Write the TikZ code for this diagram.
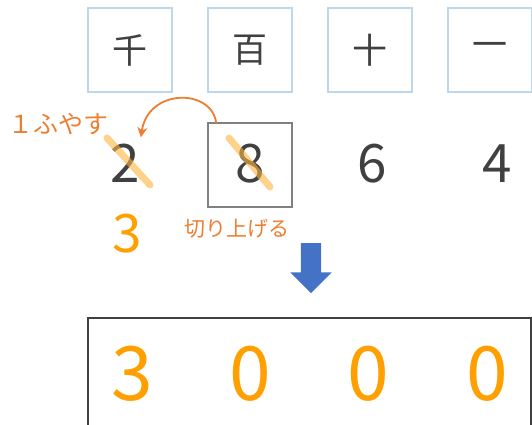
\documentclass[tikz,border=0pt]{standalone}
\usepackage{fontspec}
\setmainfont{Noto Sans CJK JP}
\usepackage{xcolor}
\usetikzlibrary{positioning}
\usetikzlibrary{calc,shapes.arrows,arrows.meta}
\definecolor{placeblue}{HTML}{BDD7EE}
\definecolor{noteorange}{HTML}{ED7D31}
\definecolor{digitorange}{HTML}{FFA000}
\definecolor{strikeorange}{HTML}{FFB440}
\definecolor{arrowblue}{HTML}{4472C4}
\definecolor{darkdigit}{HTML}{404040}
\tikzstyle{placebox}=[rectangle,draw=placeblue,line width=2pt,minimum size=84pt,inner sep=0pt,font=\fontsize{35}{35}\selectfont,text=darkdigit]
\tikzstyle{digit}=[inner sep=0pt,anchor=base,font=\fontsize{53}{53}\selectfont,text=darkdigit]
\tikzstyle{bigdigit}=[inner sep=0pt,anchor=base,font=\fontsize{75}{75}\selectfont,text=digitorange]
\tikzstyle{strike}=[draw=strikeorange,line width=7pt,line cap=round,opacity=0.6]
\tikzstyle{note}=[inner sep=0pt,anchor=west,text=noteorange]

\begin{document}
\begin{tikzpicture}[x=1pt,y=-1pt]
  \useasboundingbox (0,0) rectangle (532,425);

  % place names
  \foreach \x/\name/\label in {129.5/sen/千, 249.5/hyaku/百, 369.5/ju/十, 490/ichi/一}
     \node[placebox] (\name) at (\x, 50) {\label};

  % the number 2864
  \foreach \x/\name/\label in {125/d1/2, 250/d2/8, 372/d3/6, 497/d4/4}
     \node[digit] (\name) at (\x, 182) {\label};

  \node[rectangle, draw=gray, line width=1.5pt, minimum size=84pt, inner sep=0pt] (roundbox) at (250, 165) {};

  \draw[strike] ($(d1.base)+(-18,-44)$) -- ($(d1.base)+(25,3)$);
  \draw[strike] ($(d2.base)+(-21,-44)$) -- ($(d2.base)+(20,5)$);

  % carry one to the thousands
  \coordinate (carryfrom) at ($(roundbox.north west)+(9,1)$);
  \coordinate (carryto) at ($(d1.north east)+(1,-6)$);
  \draw[-{Stealth[length=10pt,width=10pt]}, noteorange, line width=1.8pt] (carryfrom) .. controls (212,88) and (148,88) .. (carryto);

  \node[note, font=\fontsize{25}{25}\selectfont] (fuyasu) at (8,124) {１ふやす};
  \node[note, font=\fontsize{21}{21}\selectfont] (kiriage) at (184,229) {切り上げる};
  \node[digit, text=digitorange] (carry) at (127,252) {3};

  \node[single arrow, fill=arrowblue, draw=none, rotate=-90, minimum height=50pt, inner xsep=0pt, inner ysep=10pt, single arrow head extend=10.5pt] (down) at (311,263) {};

  % the result 3000
  \node[draw=darkdigit, line width=2pt, minimum width=443pt, minimum height=123pt, anchor=north west, inner sep=0pt] (answer) at (87,317) {};
  \foreach \x/\name/\label in {132/r1/3, 250/r2/0, 368/r3/0, 487/r4/0}
     \node[bigdigit] (\name) at (\x, 400) {\label};

\end{tikzpicture}
\end{document}
